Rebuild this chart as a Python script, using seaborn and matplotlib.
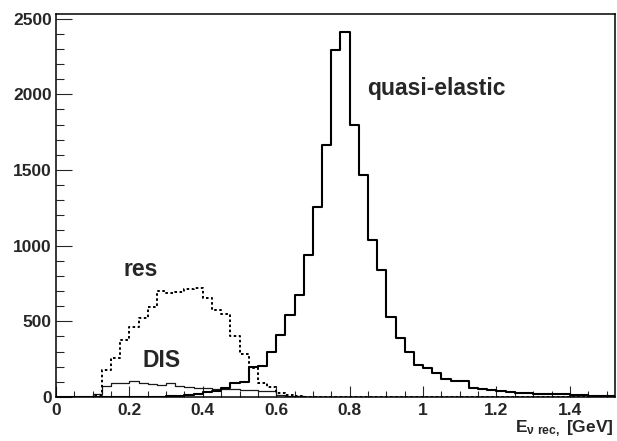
import numpy as np
import pandas as pd
import matplotlib
matplotlib.use("Agg")
import matplotlib.pyplot as plt
import seaborn as sns
from matplotlib.ticker import MultipleLocator, FuncFormatter

# ---- data (counts per 0.025 GeV bin, starting at 0) ----
bin_width = 0.025
n_bins = 61

quasi_elastic = [0, 0, 0, 0, 0, 0, 0, 0, 0, 0,
                 1, 2, 4, 8, 14, 22, 32, 42, 57, 95,
                 100, 197, 208, 299, 409, 542, 674, 938, 1257, 1664,
                 2292, 2413, 1797, 1466, 1037, 839, 531, 390, 299, 211,
                 189, 161, 119, 108, 105, 57, 51, 46, 42, 35,
                 29, 24, 20, 18, 18, 20, 13, 11, 9, 8,
                 6]
resonance = [0, 0, 0, 0, 13, 178, 255, 376, 464, 519,
             596, 702, 689, 696, 711, 718, 652, 575, 545, 405,
             282, 189, 90, 68, 25, 12, 6, 3, 1, 0,
             0, 0, 0, 0, 0, 0, 0, 0, 0, 0,
             0, 0, 0, 0, 0, 0, 0, 0, 0, 0,
             0, 0, 0, 0, 0, 0, 0, 0, 0, 0,
             0]
dis = [0, 0, 0, 0, 22, 70, 95, 95, 105, 95,
       85, 80, 95, 70, 65, 62, 58, 55, 52, 50,
       46, 43, 41, 38, 15, 8, 5, 3, 2, 1,
       0, 0, 0, 0, 0, 0, 0, 0, 0, 0,
       0, 0, 0, 0, 0, 0, 0, 0, 0, 0,
       0, 0, 0, 0, 0, 0, 0, 0, 0, 0,
       0]

y_ticks = [0, 500, 1000, 1500, 2000, 2500]
x_ticks = [0, 0.2, 0.4, 0.6, 0.8, 1.0, 1.2, 1.4]

centers = (np.arange(n_bins) + 0.5) * bin_width
df = pd.DataFrame({"E": centers, "qe": quasi_elastic, "res": resonance, "dis": dis})
brange = (0.0, n_bins * bin_width)

sns.set_style("ticks")
plt.rcParams["font.family"] = ["Liberation Sans", "DejaVu Sans"]
plt.rcParams["font.weight"] = "bold"
plt.rcParams["mathtext.fontset"] = "custom"
plt.rcParams["mathtext.rm"] = "Liberation Sans:bold"
plt.rcParams["mathtext.it"] = "Liberation Sans:bold"
plt.rcParams["mathtext.bf"] = "Liberation Sans:bold"

fig = plt.figure(figsize=(6.17, 4.41), dpi=100)
ax = fig.add_axes([56 / 617, 1 - 397 / 441, 559 / 617, 383 / 441])

sns.histplot(data=df, x="E", weights="dis", binwidth=bin_width, binrange=brange,
             element="step", fill=False, color="#1a1a1a", linewidth=0.9, ax=ax)
sns.histplot(data=df, x="E", weights="res", binwidth=bin_width, binrange=brange,
             element="step", fill=False, color="black", linewidth=1.4,
             linestyle=(0, (1.3, 1.3)), ax=ax)
sns.histplot(data=df, x="E", weights="qe", binwidth=bin_width, binrange=brange,
             element="step", fill=False, color="black", linewidth=1.5, ax=ax)

ax.set_xlim(0, 1.523)
ax.set_ylim(0, 2530)
ax.set_xticks(x_ticks)
ax.set_yticks(y_ticks)
ax.xaxis.set_minor_locator(MultipleLocator(0.05))
ax.yaxis.set_minor_locator(MultipleLocator(100))
ax.xaxis.set_major_formatter(FuncFormatter(lambda v, p: "%g" % v))
ax.yaxis.set_major_formatter(FuncFormatter(lambda v, p: "%d" % v))
ax.set_xlabel("")
ax.set_ylabel("")

ax.tick_params(axis="x", which="major", direction="in", length=8, width=0.8, pad=4,
               labelsize=12.5, top=False)
ax.tick_params(axis="x", which="minor", direction="in", length=4, width=0.8, top=False)
ax.tick_params(axis="y", which="major", direction="in", length=11.5, width=0.8, pad=3,
               labelsize=12.5, right=False)
ax.tick_params(axis="y", which="minor", direction="in", length=5.8, width=0.8, right=False)
for lab in ax.get_xticklabels() + ax.get_yticklabels():
    lab.set_fontweight("bold")
for s in ax.spines.values():
    s.set_linewidth(1.1)
    s.set_color("black")

ax.text(0.556, 0.789, "quasi-elastic", transform=ax.transAxes, ha="left", va="baseline",
        fontsize=16.5, fontweight="bold")
ax.text(0.12, 0.316, "res", transform=ax.transAxes, ha="left", va="baseline",
        fontsize=16.5, fontweight="bold")
ax.text(0.1556, 0.078, "DIS", transform=ax.transAxes, ha="left", va="baseline",
        fontsize=16.5, fontweight="bold")

fig.text(0.995, 1 - 429 / 441, r"$\mathrm{E}_{\nu\ \mathrm{rec},}$ [GeV]", ha="right",
         va="center", fontsize=12.5, fontweight="bold")

fig.savefig("out.png", dpi=100)
